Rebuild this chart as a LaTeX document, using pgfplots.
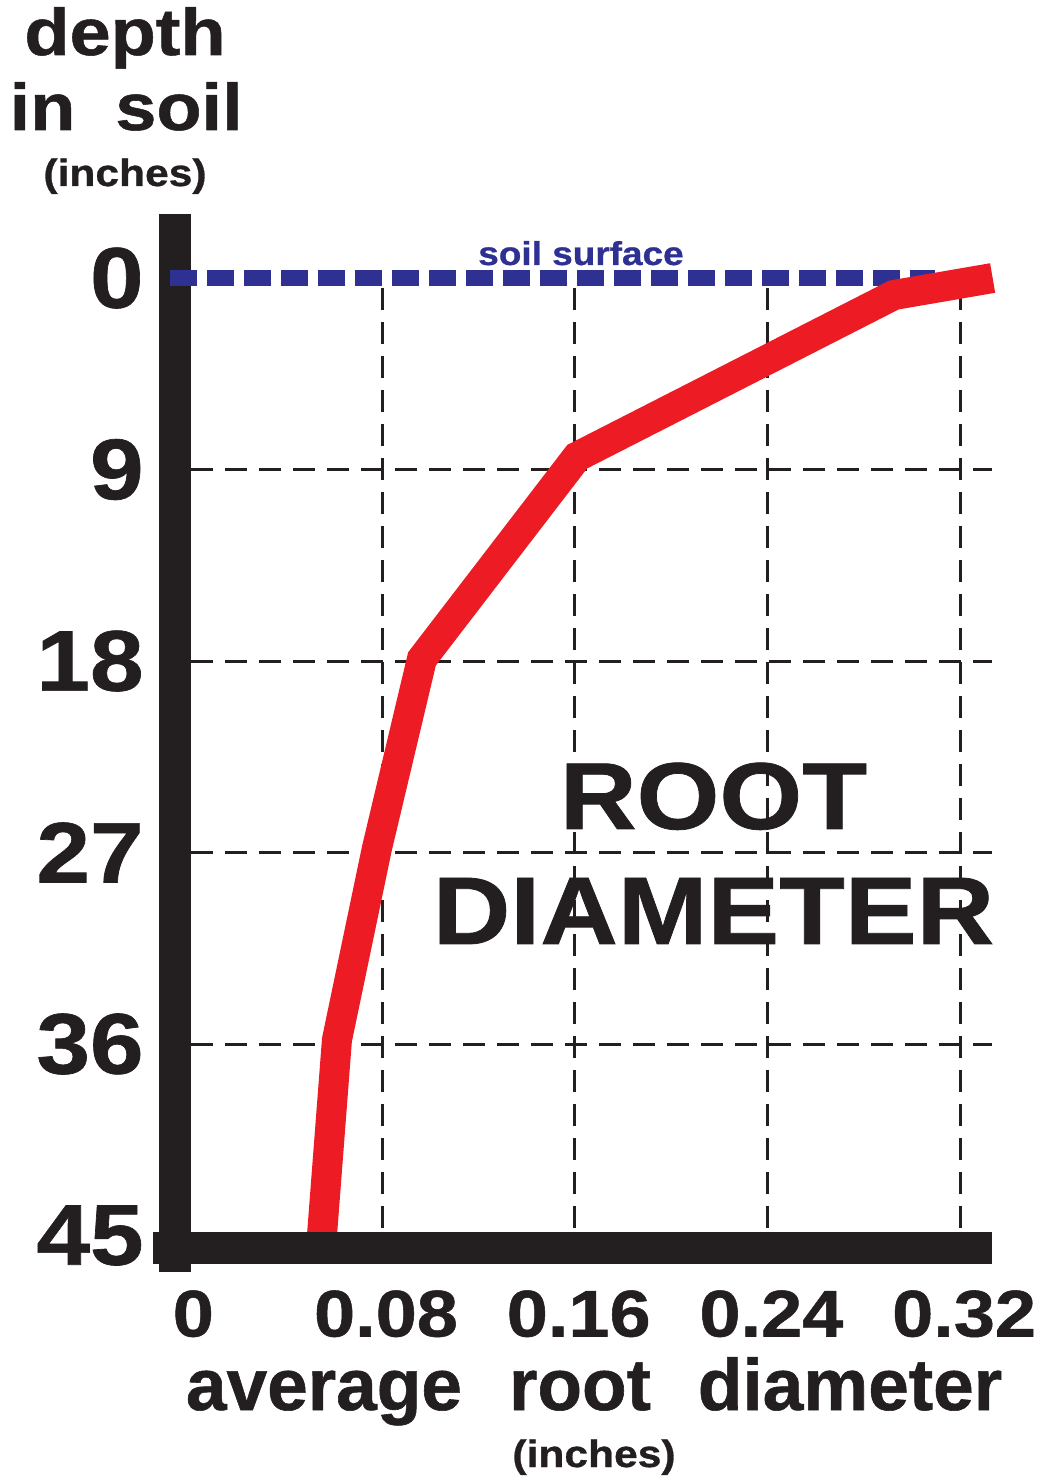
\documentclass[border=0pt]{standalone}
\usepackage{pgfplots}
\pgfplotsset{compat=1.18}
\usepackage{fontspec}
\setmainfont{Liberation Sans}
\newfontfamily\wide{Liberation Sans}[FakeStretch=1.12, FakeBold=0.8]
\newfontfamily\heavy{Liberation Sans}[FakeBold=0.8]
\definecolor{ink}{HTML}{231F20}
\definecolor{rootred}{HTML}{ED1C24}
\definecolor{soilblue}{HTML}{2E3192}
\newcommand{\fs}[1]{\fontsize{#1}{#1}\selectfont}

\begin{document}
\begin{tikzpicture}
\begin{axis}[
  scale only axis, width=408.5pt, height=517pt,
  xmin=-0.005937, xmax=0.33324, ymin=-3.008, ymax=45.587,
  y dir=reverse, clip=false,
  axis line style={draw=none}, major tick length=0pt,
  xtick={0,0.08,0.16,0.24,0.32}, xticklabels={0,0.08,0.16,0.24,0.32},
  ytick={0,9,18,27,36,45}, yticklabels={0,9,18,27,36,45},
  xticklabel style={font=\wide\bfseries\fs{33}, text=ink, anchor=north, inner sep=0pt, yshift=-21pt, xshift=2pt},
  yticklabel style={font=\wide\bfseries\fs{43}, text=ink, anchor=east, inner sep=0pt, xshift=-15.5pt},
]
% dashed grid
\draw[ink, line width=1.5pt, dash pattern=on 11pt off 6pt] (axis cs:0.08,0.47) -- (axis cs:0.08,45.587);
\draw[ink, line width=1.5pt, dash pattern=on 11pt off 6pt] (axis cs:0.16,0.47) -- (axis cs:0.16,45.587);
\draw[ink, line width=1.5pt, dash pattern=on 11pt off 6pt] (axis cs:0.24,0.47) -- (axis cs:0.24,45.587);
\draw[ink, line width=1.5pt, dash pattern=on 11pt off 6pt] (axis cs:0.32,0.47) -- (axis cs:0.32,45.587);
\draw[ink, line width=1.5pt, dash pattern=on 11pt off 6pt] (axis cs:0.0007,9) -- (axis cs:0.33324,9);
\draw[ink, line width=1.5pt, dash pattern=on 11pt off 6pt] (axis cs:0.0007,18) -- (axis cs:0.33324,18);
\draw[ink, line width=1.5pt, dash pattern=on 11pt off 6pt] (axis cs:0.0007,27) -- (axis cs:0.33324,27);
\draw[ink, line width=1.5pt, dash pattern=on 11pt off 6pt] (axis cs:0.0007,36) -- (axis cs:0.33324,36);
% left axis bar
\draw[ink, line width=16pt] (axis cs:-0.005937,-3.008) -- (axis cs:-0.005937,46.715);
% soil surface
\addplot[soilblue, line width=8pt, dash pattern=on 13.5pt off 5pt, line cap=butt] coordinates {(-0.008,0) (0.3096,0)};
% root diameter profile
\addplot[rootred, line width=15pt, line cap=butt, line join=miter] coordinates {
  (0.3335,0) (0.2925,0.8) (0.161,8.4) (0.0966,17.9) (0.0779,26.8) (0.0613,35.8) (0.0546,45.7)};
% bottom axis bar
\draw[ink, line width=16pt] (axis cs:-0.01507,45.587) -- (axis cs:0.33324,45.587);
\coordinate (O) at (axis cs:-0.005937,45.587);
\end{axis}
\begin{scope}[shift={(O)}, x=0.5pt, y=-0.5pt, shift={(-175,-1248)}, every node/.style={text=ink, inner sep=0pt, anchor=base}]
\node[font=\wide\bfseries\fs{33}] at (125,55) {depth};
\node[font=\wide\bfseries\fs{33}] at (42.5,130) {in};
\node[font=\wide\bfseries\fs{33}] at (179,130) {soil};
\node[font=\wide\bfseries\fs{19}] at (125,186) {(inches)};
\node[font=\wide\bfseries\fs{16.5}, text=soilblue] at (581,265) {soil surface};
\node[font=\wide\bfseries\fs{47.5}] at (713.5,829) {ROOT};
\node[font=\wide\bfseries\fs{48}] at (713.5,944) {DIAMETER};
\node[font=\heavy\bfseries\fs{36.5}] at (324,1410) {average};
\node[font=\heavy\bfseries\fs{36.5}] at (580,1410) {root};
\node[font=\heavy\bfseries\fs{36.5}] at (850,1410) {diameter};
\node[font=\wide\bfseries\fs{19}] at (594,1467) {(inches)};
\pgfresetboundingbox
\useasboundingbox (0,0) rectangle (1044,1479);
\end{scope}
\end{tikzpicture}
\end{document}
